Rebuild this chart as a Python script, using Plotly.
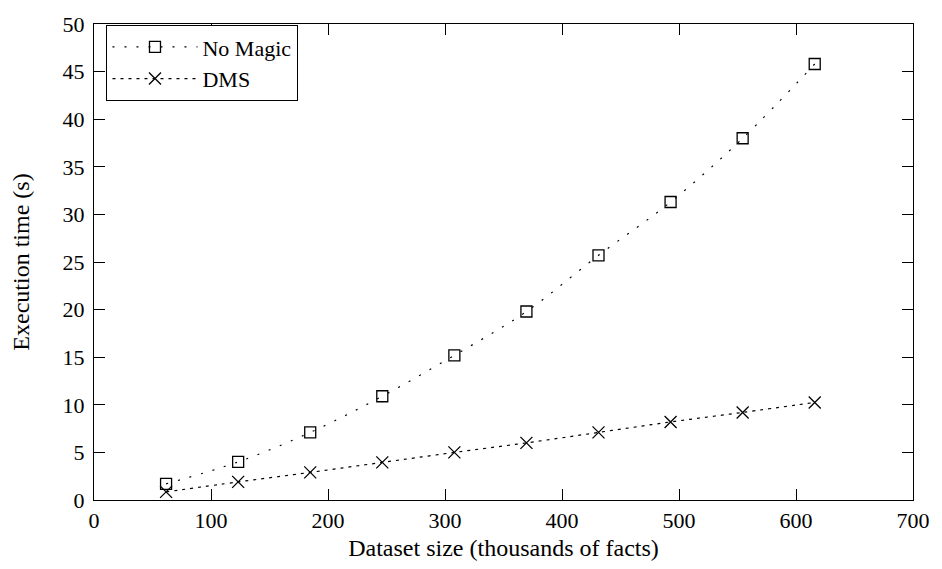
import plotly.graph_objects as go

x_vals = [61.6, 123.2, 184.8, 246.4, 308, 369.6, 431.2, 492.8, 554.4, 616]
no_magic = [1.7, 4.0, 7.1, 10.9, 15.2, 19.8, 25.7, 31.3, 38.0, 45.8]
dms = [0.85, 1.9, 2.9, 3.95, 5.0, 6.0, 7.1, 8.2, 9.2, 10.25]

x_ticks = [0, 100, 200, 300, 400, 500, 600, 700]
y_ticks = [0, 5, 10, 15, 20, 25, 30, 35, 40, 45, 50]

fam = "Liberation Serif, Times New Roman, serif"
tick_font = dict(family=fam, size=22, color="black")
title_font = dict(family=fam, size=24, color="black")

fig = go.Figure()
fig.add_trace(go.Scatter(
    x=x_vals, y=no_magic, name="No Magic", mode="lines+markers",
    line=dict(color="black", width=1.2, dash="2px,10px", shape="spline"),
    marker=dict(symbol="square-open", size=11, color="black", line=dict(width=1.3, color="black")),
))
fig.add_trace(go.Scatter(
    x=x_vals, y=dms, name="DMS", mode="lines+markers",
    line=dict(color="black", width=1.2, dash="3px,5px", shape="spline"),
    marker=dict(symbol="x-thin-open", size=12, color="black", line=dict(width=1.3, color="black")),
))

axis_common = dict(
    showline=True, linecolor="black", linewidth=1.3, mirror="ticks",
    ticks="inside", ticklen=11, tickwidth=1.2, tickcolor="black",
    showgrid=False, zeroline=False, tickfont=tick_font,
)
fig.update_xaxes(range=[0, 700], tickvals=x_ticks, ticktext=[str(v) for v in x_ticks],
                 title=dict(text="Dataset size (thousands of facts)", font=title_font, standoff=7),
                 **axis_common)
fig.update_yaxes(range=[0, 50], tickvals=y_ticks, ticktext=[str(v) for v in y_ticks],
                 title=dict(text="Execution time (s)", font=title_font, standoff=26),
                 ticklabelstandoff=4,
                 **axis_common)

fig.update_layout(
    width=942, height=569,
    margin=dict(l=94, r=28, t=13, b=69),
    plot_bgcolor="white", paper_bgcolor="white",
    font=tick_font,
    legend=dict(x=0.015, y=0.998, xanchor="left", yanchor="top",
                bordercolor="black", borderwidth=1.2, bgcolor="white",
                font=dict(family=fam, size=22, color="black"),
                tracegroupgap=0, itemwidth=85),
)

fig.write_html("out.html")
